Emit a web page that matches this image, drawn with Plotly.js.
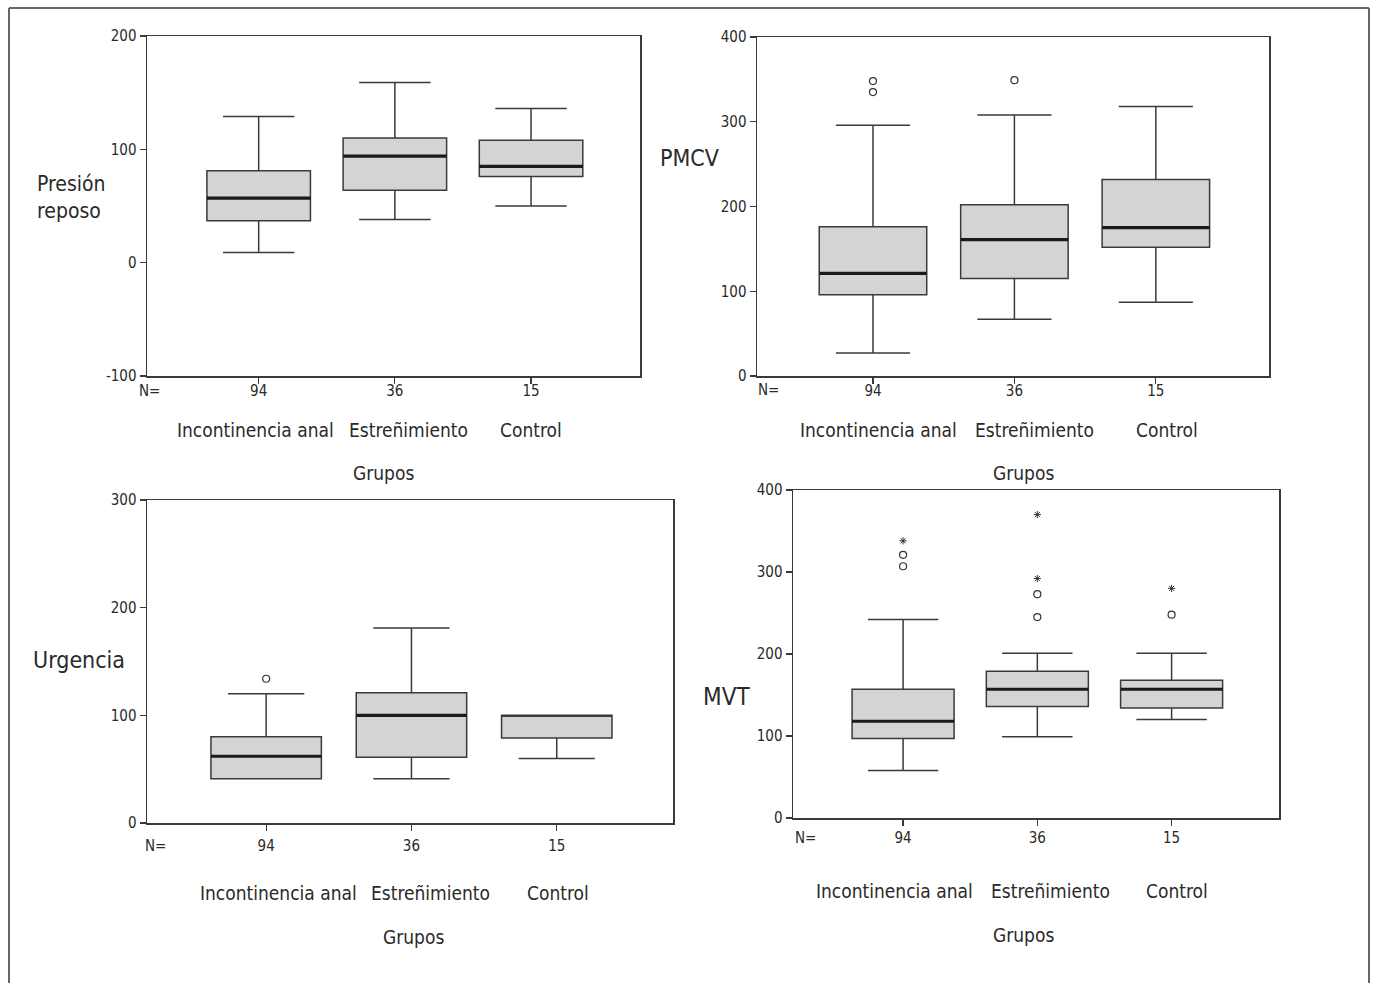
<!DOCTYPE html>
<html><head><meta charset="utf-8">
<script src="https://cdn.plot.ly/plotly-3.0.1.min.js"></script>
<style>html,body{margin:0;padding:0;background:#fff}#chart{width:1375px;height:983px}</style>
</head><body><div id="chart"></div>
<script>
// ---------- DATA ----------
const groups = ["Incontinencia anal", "Estreñimiento", "Control"];
const nLabels = ["94", "36", "15"];
const xTitle = "Grupos";

// Presión reposo
const presionTicks = [-100, 0, 100, 200];
const presionTickText = ["-100", "0", "100", "200"];
const presionLow = [9, 38, 50];
const presionQ1 = [37, 64, 76];
const presionMed = [57, 94, 85];
const presionQ3 = [81, 110, 108];
const presionHigh = [129, 159, 136];
const presionOutGroup = [];
const presionOutValue = [];
const presionOutKind = [];

// PMCV
const pmcvTicks = [0, 100, 200, 300, 400];
const pmcvTickText = ["0", "100", "200", "300", "400"];
const pmcvLow = [27, 67, 87];
const pmcvQ1 = [96, 115, 152];
const pmcvMed = [121, 161, 175];
const pmcvQ3 = [176, 202, 232];
const pmcvHigh = [296, 308, 318];
const pmcvOutGroup = [0, 0, 1];
const pmcvOutValue = [335, 348, 349];
const pmcvOutKind = ["o", "o", "o"];

// Urgencia
const urgTicks = [0, 100, 200, 300];
const urgTickText = ["0", "100", "200", "300"];
const urgLow = [41, 41, 60];
const urgQ1 = [41, 61, 79];
const urgMed = [62, 100, 100];
const urgQ3 = [80, 121, 100];
const urgHigh = [120, 181, 100];
const urgOutGroup = [0];
const urgOutValue = [134];
const urgOutKind = ["o"];

// MVT
const mvtTicks = [0, 100, 200, 300, 400];
const mvtTickText = ["0", "100", "200", "300", "400"];
const mvtLow = [58, 99, 120];
const mvtQ1 = [97, 136, 134];
const mvtMed = [118, 157, 157];
const mvtQ3 = [157, 179, 168];
const mvtHigh = [242, 201, 201];
const mvtOutGroup = [0, 0, 0, 1, 1, 1, 1, 2, 2];
const mvtOutValue = [307, 321, 338, 245, 273, 292, 370, 248, 280];
const mvtOutKind = ["o", "o", "*", "o", "o", "*", "*", "o", "*"];

// ---------- LAYOUT CONFIG ----------
const W = 1375, H = 983;
const FONT = "'DejaVu Sans Condensed', 'Liberation Sans Narrow', 'Liberation Sans', sans-serif";
const px = v => v / W;
const py = v => 1 - v / H;

const panels = [
  { ylabel: "Presión<br>reposo", ylabSize: 21, low: presionLow, q1: presionQ1, med: presionMed, q3: presionQ3, high: presionHigh,
    og: presionOutGroup, ov: presionOutValue, ok: presionOutKind, tv: presionTicks, tt: presionTickText,
    rect: [147, 36, 640, 376], yrange: [-100, 200], ylabPos: [35, 197],
    groupX: [256, 408, 531], groupY: 430, titleX: 383, titleY: 473, standoff: -6, nX: 137, nY: 391 },
  { ylabel: "PMCV", ylabSize: 23, low: pmcvLow, q1: pmcvQ1, med: pmcvMed, q3: pmcvQ3, high: pmcvHigh,
    og: pmcvOutGroup, ov: pmcvOutValue, ok: pmcvOutKind, tv: pmcvTicks, tt: pmcvTickText,
    rect: [757, 37, 1269, 376], yrange: [0, 400], ylabPos: [658, 158],
    groupX: [878, 1034, 1167], groupY: 430, titleX: 1024, titleY: 473, standoff: -6, nX: 756, nY: 390 },
  { ylabel: "Urgencia", ylabSize: 23, low: urgLow, q1: urgQ1, med: urgMed, q3: urgQ3, high: urgHigh,
    og: urgOutGroup, ov: urgOutValue, ok: urgOutKind, tv: urgTicks, tt: urgTickText,
    rect: [147, 500, 673, 823], yrange: [0, 300], ylabPos: [31, 660],
    groupX: [278, 431, 558], groupY: 893, titleX: 413, titleY: 937, standoff: 2, nX: 143, nY: 846 },
  { ylabel: "MVT", ylabSize: 24, low: mvtLow, q1: mvtQ1, med: mvtMed, q3: mvtQ3, high: mvtHigh,
    og: mvtOutGroup, ov: mvtOutValue, ok: mvtOutKind, tv: mvtTicks, tt: mvtTickText,
    rect: [793, 490, 1279, 818], yrange: [0, 400], ylabPos: [701, 697],
    groupX: [894, 1050, 1177], groupY: 891, titleX: 1024, titleY: 935, standoff: -1, nX: 793, nY: 838 }
];

const LINE = "#3a3a3a";
const TXT = "#2a2a2a";
const data = [];
const layout = {
  width: W, height: H, margin: { l: 0, r: 0, t: 0, b: 0 },
  paper_bgcolor: "#fff", plot_bgcolor: "#fff", showlegend: false,
  font: { family: FONT, color: TXT, size: 15 },
  boxmode: "overlay", annotations: [], shapes: []
};

panels.forEach((p, i) => {
  const n = i + 1;
  const sfx = n === 1 ? "" : String(n);
  const xa = "x" + sfx, ya = "y" + sfx;
  const xpos = groups.map((g, k) => k);

  data.push({
    type: "box", xaxis: xa, yaxis: ya, x: xpos,
    lowerfence: p.low, q1: p.q1, median: p.med, q3: p.q3, upperfence: p.high,
    width: 0.76, whiskerwidth: 0.69, boxpoints: false,
    fillcolor: "#d3d4d6", line: { color: LINE, width: 1.5 }, hoverinfo: "skip"
  });
  // thick median line, skipped where the median coincides with a box edge
  const mIdx = xpos.filter(k => p.med[k] > p.q1[k] && p.med[k] < p.q3[k]);
  data.push({
    type: "box", xaxis: xa, yaxis: ya, x: mIdx,
    lowerfence: mIdx.map(k => p.med[k]), q1: mIdx.map(k => p.med[k]), median: mIdx.map(k => p.med[k]),
    q3: mIdx.map(k => p.med[k]), upperfence: mIdx.map(k => p.med[k]),
    width: 0.76, whiskerwidth: 0, boxpoints: false,
    fillcolor: "rgba(0,0,0,0)", line: { color: "#1a1a1a", width: 3.2 }, hoverinfo: "skip"
  });
  // outliers
  ["o", "*"].forEach(kind => {
    const idx = p.ok.map((k, j) => j).filter(j => p.ok[j] === kind);
    if (!idx.length) return;
    data.push({
      type: "scatter", mode: "markers", xaxis: xa, yaxis: ya,
      x: idx.map(j => p.og[j]), y: idx.map(j => p.ov[j]),
      marker: kind === "o"
        ? { symbol: "circle-open", size: 7, line: { width: 1.2, color: "#333" }, color: "#333" }
        : { symbol: "asterisk-open", size: 6, line: { width: 1, color: "#333" }, color: "#333" },
      hoverinfo: "skip"
    });
  });

  const [l, t, r, b] = p.rect;
  layout["xaxis" + sfx] = {
    domain: [px(l), px(r)], anchor: ya, range: [-0.82, 2.8],
    tickmode: "array", tickvals: xpos, ticktext: nLabels,
    ticks: "outside", ticklen: 6, tickcolor: LINE, tickwidth: 1.2,
    ticklabelstandoff: p.standoff,
    showline: true, linecolor: LINE, linewidth: 1.5, mirror: true,
    showgrid: false, zeroline: false, tickfont: { size: 15, family: FONT, color: TXT }, fixedrange: true
  };
  layout["yaxis" + sfx] = {
    domain: [py(b), py(t)], anchor: xa, range: p.yrange,
    tickmode: "array", tickvals: p.tv, ticktext: p.tt,
    ticks: "outside", ticklen: 6, tickcolor: LINE, tickwidth: 1.2,
    showline: true, linecolor: LINE, linewidth: 1.5, mirror: true,
    showgrid: false, zeroline: false, tickfont: { size: 15, family: FONT, color: TXT }, fixedrange: true
  };

  const ann = (text, x, y, size, xanchor) => layout.annotations.push({
    text, x: px(x), y: py(y), xref: "paper", yref: "paper", xanchor: xanchor || "center", yanchor: "middle",
    showarrow: false, font: { family: FONT, size, color: TXT }, align: "left"
  });
  ann("N=", p.nX, p.nY, 15, "left");
  groups.forEach((g, k) => ann(g, p.groupX[k], p.groupY, 19));
  ann(xTitle, p.titleX, p.titleY, 19);
  ann(p.ylabel, p.ylabPos[0], p.ylabPos[1], p.ylabSize, "left");
});

// outer frame (left, top, right)
[[9, 8, 9, 990], [9, 8, 1369, 8], [1369, 8, 1369, 990]].forEach(s => layout.shapes.push({
  type: "line", xref: "paper", yref: "paper", x0: px(s[0]), y0: py(s[1]), x1: px(s[2]), y1: py(s[3]),
  line: { color: "#666", width: 2 }
}));

Plotly.newPlot("chart", data, layout, { staticPlot: true, displayModeBar: false });
</script></body></html>
